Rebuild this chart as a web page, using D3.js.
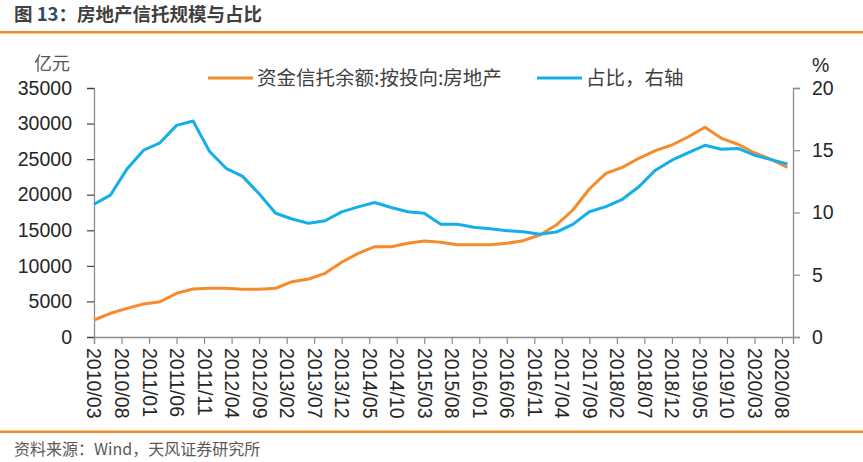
<!DOCTYPE html>
<meta charset="utf-8">
<style>
body { margin: 0; background: #fff; }
svg { display: block; font-family: 'Liberation Sans', Arial, sans-serif; }
.cjk { font-family: 'Noto Sans CJK SC', 'Noto Sans', sans-serif; }
</style>
<body>
<svg class="chart"></svg>
<script src="https://d3js.org/d3.v7.min.js"></script>
<script>
// quarterly dates
let quarters = ['2010/03','2010/06','2010/09','2010/12','2011/03','2011/06','2011/09','2011/12',
  '2012/03','2012/06','2012/09','2012/12','2013/03','2013/06','2013/09','2013/12',
  '2014/03','2014/06','2014/09','2014/12','2015/03','2015/06','2015/09','2015/12',
  '2016/03','2016/06','2016/09','2016/12','2017/03','2017/06','2017/09','2017/12',
  '2018/03','2018/06','2018/09','2018/12','2019/03','2019/06','2019/09','2019/12',
  '2020/03','2020/06','2020/09'];

// 资金信托余额:按投向:房地产 (亿元)
let trustValue = [2390,3330,4030,4640,4960,6140,6750,6850,
  6850,6700,6700,6850,7770,8150,8950,10500,
  11760,12690,12690,13170,13490,13310,12970,12970,
  12970,13170,13540,14340,15740,17850,20800,23010,
  23850,25120,26190,26990,28150,29480,27930,27090,
  25900,24980,23850];

// 占比 (%), right axis
let sharePct = [10.66,11.4,13.5,15.0,15.6,17.0,17.35,14.9,
  13.55,12.9,11.5,9.94,9.48,9.13,9.34,10.05,
  10.45,10.8,10.4,10.06,9.94,9.05,9.05,8.81,
  8.7,8.54,8.46,8.25,8.43,9.05,10.06,10.47,
  11.06,12.07,13.4,14.2,14.8,15.4,15.08,15.15,
  14.6,14.25,13.9];

let xLabels = ['2010/03','2010/08','2011/01','2011/06','2011/11','2012/04','2012/09','2013/02',
  '2013/07','2013/12','2014/05','2014/10','2015/03','2015/08','2016/01','2016/06','2016/11',
  '2017/04','2017/09','2018/02','2018/07','2018/12','2019/05','2019/10','2020/03','2020/08'];

let leftTicks = [0,5000,10000,15000,20000,25000,30000,35000];
let rightTicks = [0,5,10,15,20];

let seriesNames = ['资金信托余额:按投向:房地产','占比，右轴'];
let colors = ['#F68B2C','#14AEEA'];

let rwidth = 863, rheight = 462;
let margin = {top:88, bottom:125, left:94, right:70};

let svg = d3.select('.chart').attr('width',rwidth).attr('height',rheight);

// months since 2010/03
function monthIdx(s){
  let p = s.split('/');
  return (+p[0]-2010)*12 + (+p[1]-3);
}

let xscale = d3.scaleLinear().domain([0,127]).range([margin.left, rwidth-margin.right]);
let yleft = d3.scaleLinear().domain([0,35000]).range([rheight-margin.bottom, margin.top]);
let yright = d3.scaleLinear().domain([0,20]).range([rheight-margin.bottom, margin.top]);

// title + rules
svg.append('text').attr('class','cjk').attr('x',14).attr('y',21)
   .style('font-size','18.5px').style('font-weight','bold').style('fill','#3f3f3f')
   .call(t => {
     t.append('tspan').text('图 ');
     t.append('tspan').style('fill','#2f4a68').text('13');
     t.append('tspan').text('：房地产信托规模与占比');
   });
svg.append('rect').attr('x',0).attr('y',31).attr('width',rwidth).attr('height',2.5).style('fill','#F08A2A');
svg.append('rect').attr('x',0).attr('y',430.5).attr('width',rwidth).attr('height',2.5).style('fill','#F08A2A');
svg.append('text').attr('class','cjk').attr('x',14).attr('y',455)
   .style('font-size','16px').style('fill','#595959').text('资料来源：Wind，天风证券研究所');

// axes
let axisColor = '#8c8c8c';
let gl = svg.append('g').attr('transform',`translate(${margin.left},0)`)
  .call(d3.axisLeft(yleft).tickValues(leftTicks).tickSize(7).tickPadding(15).tickFormat(d3.format('d')));
let gr = svg.append('g').attr('transform',`translate(${rwidth-margin.right},0)`)
  .call(d3.axisRight(yright).tickValues(rightTicks).tickSize(7).tickPadding(12));
let gx = svg.append('g').attr('transform',`translate(0,${rheight-margin.bottom})`)
  .call(d3.axisBottom(xscale).tickValues(xLabels.map(monthIdx)).tickSize(7)
        .tickFormat((d,i) => xLabels[i]));

[gl,gr,gx].forEach(g => {
  g.select('.domain').attr('stroke',axisColor).attr('stroke-width',1.3);
  g.selectAll('.tick line').attr('stroke',axisColor).attr('stroke-width',1.2);
  g.selectAll('text').style('font-size','19.5px').style('fill','#262626')
   .style('font-family',"'Liberation Sans', Arial, sans-serif");
});
gl.selectAll('.tick line').attr('stroke','#404040');
gx.selectAll('text')
  .attr('transform','rotate(90)')
  .attr('x',11).attr('y',0).attr('dy','0.36em')
  .style('text-anchor','start');

// unit labels
svg.append('text').attr('class','cjk').attr('x',70).attr('y',70)
   .style('text-anchor','end').style('font-size','18px').style('fill','#595959').text('亿元');
svg.append('text').attr('x',812).attr('y',72)
   .style('font-size','19.5px').style('fill','#262626').text('%');

// lines
let lineL = d3.line().x((d,i) => xscale(monthIdx(quarters[i]))).y(d => yleft(d));
let lineR = d3.line().x((d,i) => xscale(monthIdx(quarters[i]))).y(d => yright(d));

svg.append('path').datum(trustValue).attr('d',lineL)
   .style('fill','none').style('stroke',colors[0]).style('stroke-width',3).style('stroke-linejoin','round');
svg.append('path').datum(sharePct).attr('d',lineR)
   .style('fill','none').style('stroke',colors[1]).style('stroke-width',3).style('stroke-linejoin','round');

// legend
let legendPos = [{x1:208,x2:253,tx:257},{x1:537,x2:582,tx:586}];
let lg = svg.selectAll('.legend').data(seriesNames).join('g').attr('class','legend');
lg.append('line')
  .attr('x1',(d,i) => legendPos[i].x1).attr('x2',(d,i) => legendPos[i].x2)
  .attr('y1',78).attr('y2',78)
  .style('stroke',(d,i) => colors[i]).style('stroke-width',3);
lg.append('text').attr('class','cjk')
  .attr('x',(d,i) => legendPos[i].tx).attr('y',78).attr('dy','0.36em')
  .style('font-size','19.5px').style('fill','#404040')
  .text(d => d);
</script>
</body>
